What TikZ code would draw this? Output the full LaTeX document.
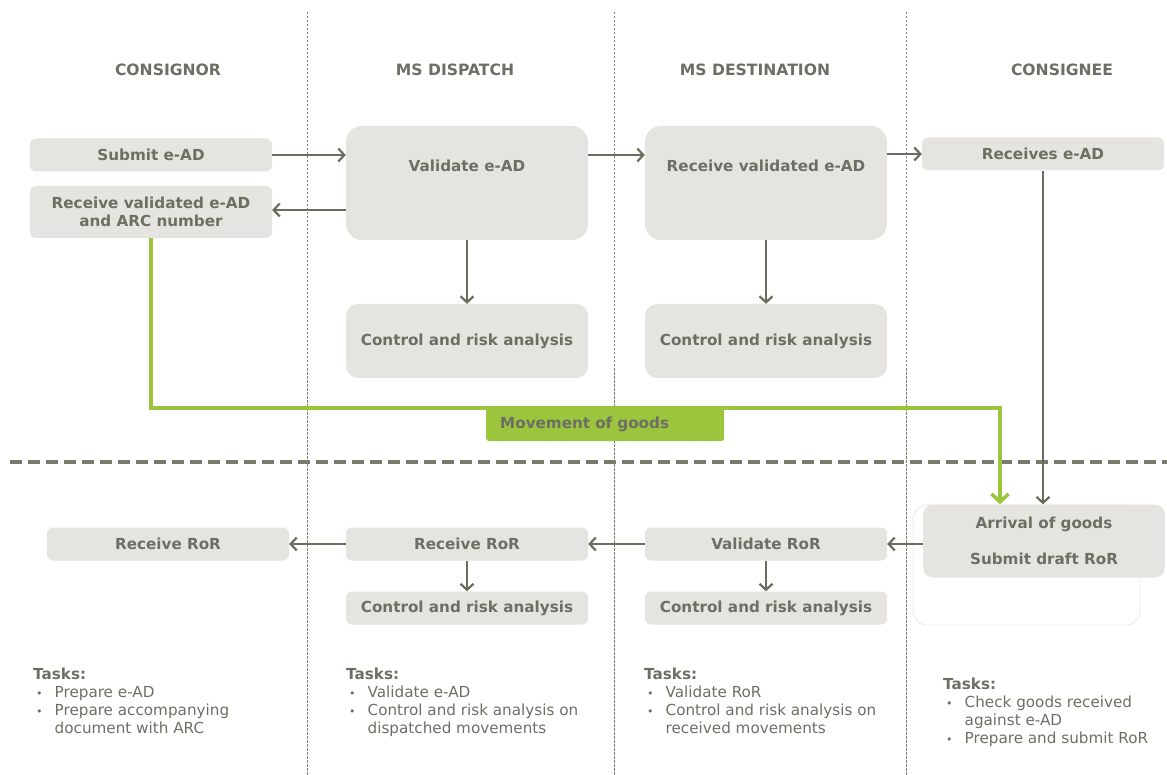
\documentclass[tikz,border=0pt]{standalone}
\usepackage{fontspec}
\setmainfont{DejaVu Sans}
\usetikzlibrary{arrows.meta,positioning}
\definecolor{boxgray}{HTML}{E6E4E0}
\definecolor{txtgray}{HTML}{6E6E64}
\definecolor{linegray}{HTML}{6B6B5E}
\definecolor{goodsgreen}{HTML}{9BC53D}

\begin{document}
\begin{tikzpicture}[x=1pt, y=-1pt, >={Straight Barb[length=6pt, width=13pt]},
		font=\fontsize{15.2}{18}\selectfont, text=txtgray,
		stepbox/.style={fill=boxgray, rounded corners=6pt, minimum width=242pt, minimum height=33pt, inner sep=0pt, align=center, font=\fontsize{15.2}{18}\selectfont\bfseries},
		bigbox/.style={stepbox, rounded corners=16pt, text height=46pt, text depth=68pt},
		lanehead/.style={font=\fontsize{15.6}{18}\selectfont\bfseries},
		taskbox/.style={anchor=north west, inner sep=0pt, align=left},
		flow/.style={->, draw=linegray, line width=2.2pt},
		goods/.style={->, draw=goodsgreen, line width=3.5pt, >={Straight Barb[length=8pt, width=17pt]}},
		lane/.style={draw=linegray!85, line width=0.9pt, dash pattern=on 2.5pt off 1.5pt}]
		\useasboundingbox (0,0) rectangle (1167,775);
		% swim lanes
		\foreach \lx in {307,614,906} {
			\draw[lane] (\lx,12) -- (\lx,775);
		}
		\draw[draw=linegray!90, line width=3.5pt, dash pattern=on 12pt off 6pt] (10,462) -- (1167,462);
		\node[lanehead] (hconsignor) at (168,70) {CONSIGNOR};
		\node[lanehead] (hdispatch) at (455,70) {MS DISPATCH};
		\node[lanehead] (hdest) at (755,70) {MS DESTINATION};
		\node[lanehead] (hconsignee) at (1062,70) {CONSIGNEE};
		% upper half: e-AD
		\node[stepbox] (submit) at (151,155) {Submit e-AD};
		\node[stepbox, minimum height=52pt] (recvarc) at (151,212) {Receive validated e-AD\\and ARC number};
		\node[bigbox] (validate) at (467,183) {Validate e-AD};
		\node[bigbox] (destrecv) at (766,183) {Receive validated e-AD};
		\node[stepbox] (receives) at (1043,154) {Receives e-AD};
		\node[stepbox, rounded corners=12pt, minimum height=74pt] (ctrla) at (467,341) {Control and risk analysis};
		\node[stepbox, rounded corners=12pt, minimum height=74pt] (ctrlb) at (766,341) {Control and risk analysis};
		\draw[flow] (submit.east) -- (validate.west |- submit.east);
		\draw[flow] (validate.west |- 0,210) -- (recvarc.east |- 0,210);
		\draw[flow] (validate.east |- submit.east) -- (destrecv.west |- submit.east);
		\draw[flow] (destrecv.east |- receives.west) -- (receives.west);
		\draw[flow] (validate.south) -- (ctrla.north);
		\draw[flow] (destrecv.south) -- (ctrlb.north);
		% lower half: RoR
		\draw[white!91!black, line width=0.8pt, rounded corners=14pt] (913,505) rectangle (1140,625);
		\node[stepbox, rounded corners=10pt, minimum height=73pt] (arrival) at (1044,541) {Arrival of goods\\[18pt]Submit draft RoR};
		\node[stepbox] (validror) at (766,544) {Validate RoR};
		\node[stepbox] (recvrorb) at (467,544) {Receive RoR};
		\node[stepbox] (recvrora) at (168,544) {Receive RoR};
		\node[stepbox] (ctrlc) at (467,608) {Control and risk analysis};
		\node[stepbox] (ctrld) at (766,608) {Control and risk analysis};
		\draw[flow] (receives.south) -- (receives.south |- arrival.north);
		\draw[flow] (arrival.west |- validror.east) -- (validror.east);
		\draw[flow] (validror.west) -- (recvrorb.east);
		\draw[flow] (recvrorb.west) -- (recvrora.east);
		\draw[flow] (recvrorb.south) -- (ctrlc.north);
		\draw[flow] (validror.south) -- (ctrld.north);
		% movement of goods
		\node[fill=goodsgreen, rounded corners=3pt, anchor=north west, text width=210pt, minimum height=34pt, inner xsep=14pt, inner ysep=0pt, align=left, font=\fontsize{15.2}{18}\selectfont\bfseries] (movement) at (486,407) {Movement of goods};
		\coordinate (goodsturn) at (1000,408);
		\draw[goods] (recvarc.south) |- (goodsturn) -- (goodsturn |- arrival.north);
		% tasks
		\node[taskbox] (taska) at (33,667) {\begin{tabular}{@{}l@{\hspace{12pt}}l@{}}
			\multicolumn{2}{@{}l}{\bfseries Tasks:}\\
			\hspace{3pt}{\fontsize{11}{11}\selectfont •} & Prepare e-AD\\
			\hspace{3pt}{\fontsize{11}{11}\selectfont •} & Prepare accompanying\\
			& document with ARC
		\end{tabular}};
		\node[taskbox] (taskb) at (346,667) {\begin{tabular}{@{}l@{\hspace{12pt}}l@{}}
			\multicolumn{2}{@{}l}{\bfseries Tasks:}\\
			\hspace{3pt}{\fontsize{11}{11}\selectfont •} & Validate e-AD\\
			\hspace{3pt}{\fontsize{11}{11}\selectfont •} & Control and risk analysis on\\
			& dispatched movements
		\end{tabular}};
		\node[taskbox] (taskc) at (644,667) {\begin{tabular}{@{}l@{\hspace{12pt}}l@{}}
			\multicolumn{2}{@{}l}{\bfseries Tasks:}\\
			\hspace{3pt}{\fontsize{11}{11}\selectfont •} & Validate RoR\\
			\hspace{3pt}{\fontsize{11}{11}\selectfont •} & Control and risk analysis on\\
			& received movements
		\end{tabular}};
		\node[taskbox] (taskd) at (943,677) {\begin{tabular}{@{}l@{\hspace{12pt}}l@{}}
			\multicolumn{2}{@{}l}{\bfseries Tasks:}\\
			\hspace{3pt}{\fontsize{11}{11}\selectfont •} & Check goods received\\
			& against e-AD\\
			\hspace{3pt}{\fontsize{11}{11}\selectfont •} & Prepare and submit RoR
		\end{tabular}};
	\end{tikzpicture}
\end{document}
